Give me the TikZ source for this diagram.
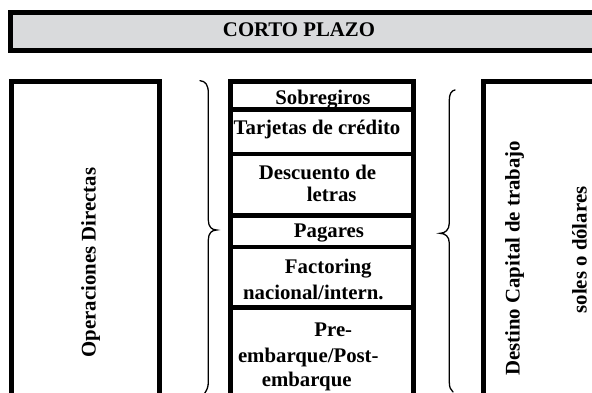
\documentclass[tikz,border=0pt]{standalone}
\usepackage{fontspec}
\setmainfont{Liberation Serif}
\definecolor{barfill}{HTML}{D9DADC}
\begin{document}
\begin{tikzpicture}[x=1pt,y=-1pt,
  frame/.style={line width=5pt},
  sep/.style={line width=4.5pt},
  lbl/.style={font=\fontsize{20.8}{24}\selectfont\bfseries, inner sep=0pt, anchor=base},
  bracepath/.style={line width=1.3pt, line cap=round}]
\useasboundingbox (0,0) rectangle (592,393);
% top bar
\draw[frame, fill=barfill] (10.8,12.5) rectangle (620,50.2);
\node[lbl] (title) at (299,36.7) {CORTO PLAZO};
% left box
\draw[frame] (11.7,420) -- (11.7,81.5) -- (159.2,81.5) -- (159.2,420);
\node[lbl, rotate=90] (ops) at (95.5,262.5) {Operaciones Directas};
% left brace
\draw[bracepath] (200,80.7) .. controls (205.5,81) and (208.3,85) .. (208.3,93)
  -- (208.3,220) .. controls (208.3,227) and (212,230) .. (216.7,230)
  .. controls (212,230) and (208.3,233) .. (208.3,240)
  -- (208.3,382) .. controls (208.3,387) and (207,390) .. (204.5,393.5);
% middle column
\draw[frame] (230.8,420) -- (230.8,81.5) -- (413.5,81.5) -- (413.5,420);
\foreach \yy in {109.5,154,215.5,247,307.5}
  \draw[sep] (230.8,\yy) -- (415.5,\yy);
\node[lbl] (sob) at (323,105) {Sobregiros};
\node[lbl] (tar) at (317,134.7) {Tarjetas de crédito};
\node[lbl] (desc1) at (317.5,180) {Descuento de};
\node[lbl] (desc2) at (331.7,201.7) {letras};
\node[lbl] (pag) at (329,237.3) {Pagares};
\node[lbl] (fac1) at (328.3,273) {Factoring};
\node[lbl] (fac2) at (313.3,299) {nacional/intern.};
\node[lbl] (pre1) at (333.3,336) {Pre-};
\node[lbl] (pre2) at (308.3,362) {embarque/Post-};
\node[lbl] (pre3) at (306.7,386) {embarque};
% right brace
\draw[bracepath] (455,90) .. controls (451.5,90.5) and (449.3,94) .. (449.3,100)
  -- (449.3,223) .. controls (449.3,230) and (445,233.3) .. (440,233.3)
  .. controls (445,233.3) and (449.3,236.5) .. (449.3,243)
  -- (449.3,382) .. controls (449.3,387) and (450.5,390) .. (453,392);
% right box
\draw[frame] (483.5,420) -- (483.5,81.5) -- (620,81.5);
\node[lbl, rotate=90] (dest) at (519.5,258.3) {Destino Capital de trabajo};
\node[lbl, rotate=90] (sol) at (586.5,250) {soles o dólares};
\end{tikzpicture}
\end{document}
